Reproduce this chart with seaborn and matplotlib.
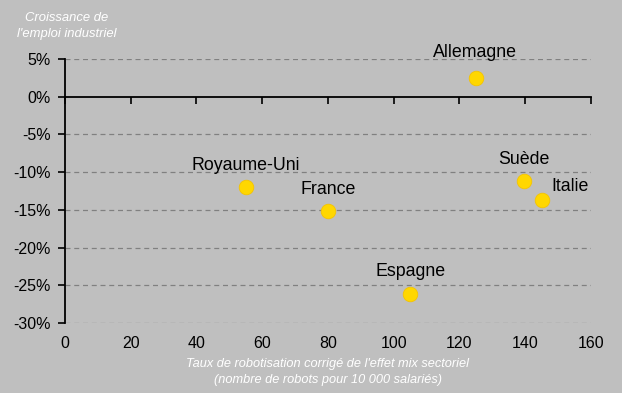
import numpy as np
import pandas as pd
import matplotlib
matplotlib.use('Agg')
import matplotlib.pyplot as plt
import seaborn as sns

# Data
countries = ['Allemagne', 'Royaume-Uni', 'France', 'Espagne', 'Suède', 'Italie']
robots = [125, 55, 80, 105, 139.5, 145]
growth = [2.5, -12.0, -15.2, -26.2, -11.2, -13.7]
x_ticks = [0, 20, 40, 60, 80, 100, 120, 140, 160]
y_ticks = [5, 0, -5, -10, -15, -20, -25, -30]

df = pd.DataFrame({'Pays': countries, 'Robots': robots, 'Croissance': growth})

sns.set_theme(style='white')
plt.rcParams['font.family'] = ['Liberation Sans', 'DejaVu Sans']

bg = '#bfbfbf'
fig = plt.figure(figsize=(6.22, 3.93), dpi=100, facecolor=bg)
ax = fig.add_axes([0.1045, 0.178, 0.8455, 0.672])
ax.set_facecolor(bg)

# dashed gridlines
for y in y_ticks:
    if y != 0:
        ax.axhline(y, color='#808080', lw=0.9, ls=(0, (4, 3)), zorder=1)

sns.scatterplot(data=df, x='Robots', y='Croissance', ax=ax, s=110,
                color='#ffd700', edgecolor='#f5c400', linewidth=0.6, zorder=3)

ax.set_xlim(0, 160)
ax.set_ylim(-30, 5)

# label placement (offsets in points)
offsets = {
    'Allemagne': (-1, 12, 'center'),
    'Royaume-Uni': (0, 9.5, 'center'),
    'France': (0, 9.5, 'center'),
    'Espagne': (0, 10, 'center'),
    'Suède': (0, 9.5, 'center'),
    'Italie': (7, 3.5, 'left'),
}
for _, r in df.iterrows():
    dx, dy, ha = offsets[r['Pays']]
    ax.annotate(r['Pays'], (r['Robots'], r['Croissance']), xytext=(dx, dy),
                textcoords='offset points', ha=ha, va='bottom',
                fontsize=12.8, color='black')

# spines: left at x=0, black horizontal axis at y=0
for s in ['top', 'right']:
    ax.spines[s].set_visible(False)
ax.spines['left'].set_color('black')
ax.spines['left'].set_linewidth(1.3)
ax.spines['bottom'].set_position(('data', 0))
ax.spines['bottom'].set_color('black')
ax.spines['bottom'].set_linewidth(1.3)

ax.set_xticks(x_ticks)
ax.tick_params(axis='x', bottom=True, direction='out', length=5, width=1.2,
               color='black', labelbottom=False)
ax.set_yticks(y_ticks)
ax.set_yticklabels([f'{v}%' for v in y_ticks])
ax.tick_params(axis='y', left=True, direction='out', length=5, width=1.2,
               color='black', labelsize=11.5, labelcolor='black', pad=5)

# x tick labels at the bottom of the plot
sec = ax.secondary_xaxis('bottom')
sec.set_xticks(x_ticks)
sec.tick_params(length=0, labelsize=11.5, labelcolor='black', pad=9)
sec.spines['bottom'].set_visible(False)

ax.set_xlabel('')
ax.set_ylabel('')

fig.text(0.107, 0.97, "Croissance de\nl'emploi industriel", ha='center', va='top',
         fontsize=9.4, style='italic', color='white', linespacing=1.45)
fig.text(0.527, 0.088, "Taux de robotisation corrigé de l'effet mix sectoriel\n"
         "(nombre de robots pour 10 000 salariés)", ha='center', va='top',
         fontsize=9.2, style='italic', color='white', linespacing=1.35)

fig.savefig('out.png', dpi=100, facecolor=bg)
